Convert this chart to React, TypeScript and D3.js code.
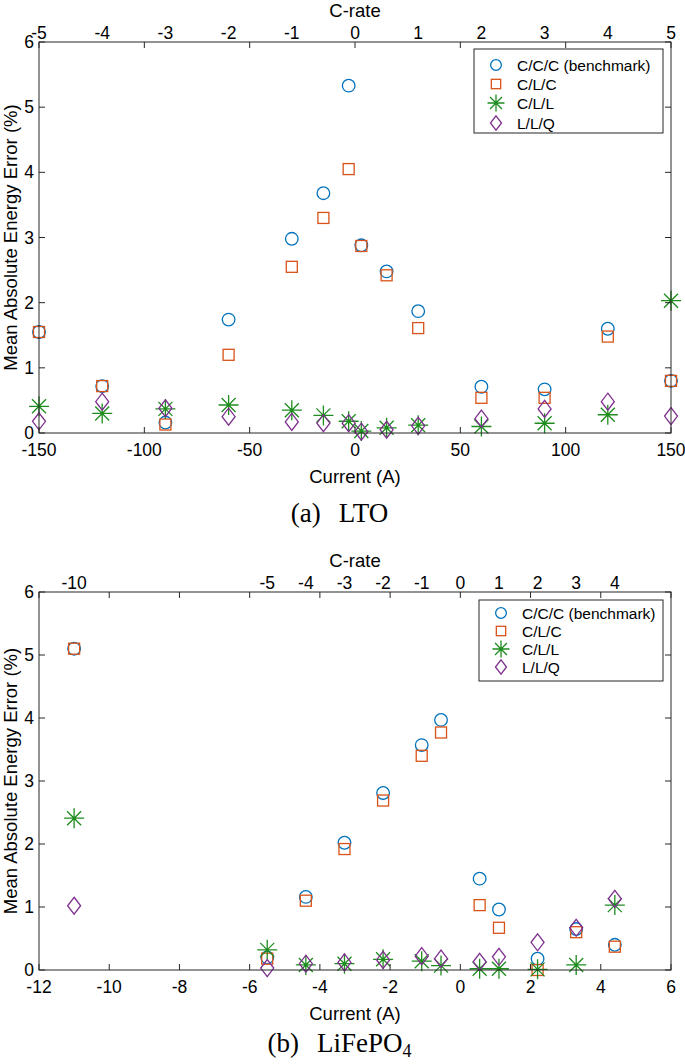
import React from "react";
import * as d3 from "d3";

// ---------- DATA ----------
const seriesNames = ["C/C/C (benchmark)", "C/L/C", "C/L/L", "L/L/Q"];

// (a) LTO
const ltoCurrent = [-150, -120, -90, -60, -30, -15, -3, 3, 15, 30, 60, 90, 120, 150];
const ltoCCC = [1.55, 0.72, 0.16, 1.74, 2.98, 3.68, 5.33, 2.88, 2.48, 1.87, 0.71, 0.67, 1.6, 0.8];
const ltoCLC = [1.55, 0.72, 0.13, 1.2, 2.55, 3.3, 4.05, 2.87, 2.42, 1.61, 0.54, 0.54, 1.48, 0.8];
const ltoCLL = [0.41, 0.3, 0.37, 0.43, 0.35, 0.27, 0.18, 0.03, 0.08, 0.12, 0.1, 0.15, 0.28, 2.03];
const ltoLLQ = [0.18, 0.48, 0.38, 0.25, 0.17, 0.15, 0.15, 0.02, 0.05, 0.11, 0.22, 0.37, 0.48, 0.26];
const ltoXTicks = [-150, -100, -50, 0, 50, 100, 150];
const ltoCrateLabels = [-5, -4, -3, -2, -1, 0, 1, 2, 3, 4, 5];
const ltoOneC = 30; // A per 1C

// (b) LiFePO4
const lfpCurrent = [-11, -5.5, -4.4, -3.3, -2.2, -1.1, -0.55, 0.55, 1.1, 2.2, 3.3, 4.4];
const lfpCCC = [5.1, 0.2, 1.16, 2.02, 2.81, 3.57, 3.97, 1.45, 0.96, 0.18, 0.65, 0.4];
const lfpCLC = [5.1, 0.18, 1.1, 1.92, 2.69, 3.4, 3.77, 1.03, 0.67, 0.0, 0.6, 0.37];
const lfpCLL = [2.41, 0.32, 0.08, 0.1, 0.17, 0.14, 0.07, 0.02, 0.02, 0.01, 0.08, 1.03];
const lfpLLQ = [1.02, 0.03, 0.1, 0.12, 0.16, 0.22, 0.18, 0.13, 0.21, 0.44, 0.67, 1.13];
const lfpXTicks = [-12, -10, -8, -6, -4, -2, 0, 2, 4, 6];
const lfpCrateLabels = [-10, -5, -4, -3, -2, -1, 0, 1, 2, 3, 4];
const lfpOneC = 1.1; // A per 1C

const yTicks = [0, 1, 2, 3, 4, 5, 6];

// ---------- STYLE ----------
const colors = ["#0072BD", "#D95319", "#1E8C1E", "#7E2F8E"];
const axisColor = "#262626";
const sans = "'Liberation Sans', Arial, Helvetica, sans-serif";
const serif = "'Liberation Serif', 'Times New Roman', serif";
const W = 685;
const H = 1064;

function Marker({ kind, x, y, color, scale = 1 }: { kind: number; x: number; y: number; color: string; scale?: number }) {
  const sw = 1.3;
  if (kind === 0) {
    return <circle cx={x} cy={y} r={6.3 * scale} fill="none" stroke={color} strokeWidth={sw} />;
  }
  if (kind === 1) {
    const s = 5.5 * scale;
    return <rect x={x - s} y={y - s} width={2 * s} height={2 * s} fill="none" stroke={color} strokeWidth={sw} />;
  }
  if (kind === 2) {
    const a = 10 * scale;
    const b = 7 * scale;
    const p = `M${x - a},${y}L${x + a},${y}M${x},${y - a}L${x},${y + a}M${x - b},${y - b}L${x + b},${y + b}M${x - b},${y + b}L${x + b},${y - b}`;
    return <path d={p} fill="none" stroke={color} strokeWidth={sw} />;
  }
  const w = 6.5 * scale;
  const h = 8.5 * scale;
  const p = `M${x},${y - h}L${x + w},${y}L${x},${y + h}L${x - w},${y}Z`;
  return <path d={p} fill="none" stroke={color} strokeWidth={sw} />;
}

type PanelProps = {
  top: number;
  bottom: number;
  xDomain: [number, number];
  xTicks: number[];
  current: number[];
  series: number[][];
  crateLabels: number[];
  oneC: number;
  legend: { x0: number; x1: number; y0: number; y1: number; rows: number[] };
  caption: React.ReactNode;
  captionY: number;
};

function Panel(p: PanelProps) {
  const left = 39;
  const right = 671;
  const x = d3.scaleLinear().domain(p.xDomain).range([left, right]);
  const y = d3.scaleLinear().domain([0, 6]).range([p.bottom, p.top]);
  const tl = 6;
  const fs = 17.5;
  const lfs = 18.5;
  const midY = (p.top + p.bottom) / 2;
  return (
    <g>
      {/* markers */}
      {p.series.map((vals, si) => (
        <g key={si}>
          {vals.map((v, i) => (
            <Marker key={i} kind={si} x={x(p.current[i])} y={y(v)} color={colors[si]} />
          ))}
        </g>
      ))}
      {/* box */}
      <rect x={left} y={p.top} width={right - left} height={p.bottom - p.top} fill="none" stroke={axisColor} strokeWidth={1} />
      {/* x ticks bottom & top */}
      {p.xTicks.map((t) => (
        <g key={"xt" + t}>
          <line x1={x(t)} x2={x(t)} y1={p.bottom} y2={p.bottom - tl} stroke={axisColor} />
          <line x1={x(t)} x2={x(t)} y1={p.top} y2={p.top + tl} stroke={axisColor} />
          <text x={x(t)} y={p.bottom + 23} textAnchor="middle" fontSize={fs} fontFamily={sans} fill="#000">
            {t}
          </text>
        </g>
      ))}
      {/* y ticks */}
      {yTicks.map((t) => (
        <g key={"yt" + t}>
          <line x1={left} x2={left + tl} y1={y(t)} y2={y(t)} stroke={axisColor} />
          <line x1={right} x2={right - tl} y1={y(t)} y2={y(t)} stroke={axisColor} />
          <text x={left - 5} y={y(t) + 6} textAnchor="end" fontSize={fs} fontFamily={sans} fill="#000">
            {t}
          </text>
        </g>
      ))}
      {/* top C-rate labels */}
      {p.crateLabels.map((c) => (
        <text key={"c" + c} x={x(c * p.oneC)} y={p.top - 3} textAnchor="middle" fontSize={fs} fontFamily={sans} fill="#000">
          {c}
        </text>
      ))}
      <text x={(left + right) / 2} y={p.top - 25} textAnchor="middle" fontSize={lfs} fontFamily={sans} fill="#000">
        C-rate
      </text>
      <text x={(left + right) / 2} y={p.bottom + 50} textAnchor="middle" fontSize={lfs} fontFamily={sans} fill="#000">
        Current (A)
      </text>
      <text
        transform={`translate(${left - 22},${midY}) rotate(-90)`}
        textAnchor="middle"
        fontSize={lfs}
        fontFamily={sans}
        fill="#000"
      >
        Mean Absolute Energy Error (%)
      </text>
      {/* legend */}
      <rect
        x={p.legend.x0}
        y={p.legend.y0}
        width={p.legend.x1 - p.legend.x0}
        height={p.legend.y1 - p.legend.y0}
        fill="#fff"
        stroke={axisColor}
        strokeWidth={1}
      />
      {seriesNames.map((n, i) => (
        <g key={n}>
          <Marker kind={i} x={p.legend.x0 + 22} y={p.legend.rows[i]} color={colors[i]} scale={0.85} />
          <text x={p.legend.x0 + 43} y={p.legend.rows[i] + 5.5} fontSize={15.5} fontFamily={sans} fill="#000">
            {n}
          </text>
        </g>
      ))}
      <text x={W / 2 - 3} y={p.captionY} textAnchor="middle" fontSize={27} fontFamily={serif} fill="#000">
        {p.caption}
      </text>
    </g>
  );
}

export default function App() {
  return (
    <svg
      width={W}
      height={H}
      viewBox={`0 0 ${W} ${H}`}
      style={{ position: "absolute", left: 0, top: 0, background: "#fff" }}
    >
      <rect width={W} height={H} fill="#fff" />
      <Panel
        top={42}
        bottom={433}
        xDomain={[-150, 150]}
        xTicks={ltoXTicks}
        current={ltoCurrent}
        series={[ltoCCC, ltoCLC, ltoCLL, ltoLLQ]}
        crateLabels={ltoCrateLabels}
        oneC={ltoOneC}
        legend={{ x0: 474, x1: 663, y0: 49, y1: 133, rows: [65, 84, 103, 123] }}
        caption={
          <>
            <tspan>(a)</tspan>
            <tspan dx={18}>LTO</tspan>
          </>
        }
        captionY={522}
      />
      <Panel
        top={592}
        bottom={970}
        xDomain={[-12, 6]}
        xTicks={lfpXTicks}
        current={lfpCurrent}
        series={[lfpCCC, lfpCLC, lfpCLL, lfpLLQ]}
        crateLabels={lfpCrateLabels}
        oneC={lfpOneC}
        legend={{ x0: 479, x1: 663, y0: 600, y1: 681, rows: [613, 631, 649, 667] }}
        caption={
          <>
            <tspan>(b)</tspan>
            <tspan dx={18}>LiFePO</tspan>
            <tspan fontSize={18} dy={5}>4</tspan>
          </>
        }
        captionY={1052}
      />
    </svg>
  );
}
